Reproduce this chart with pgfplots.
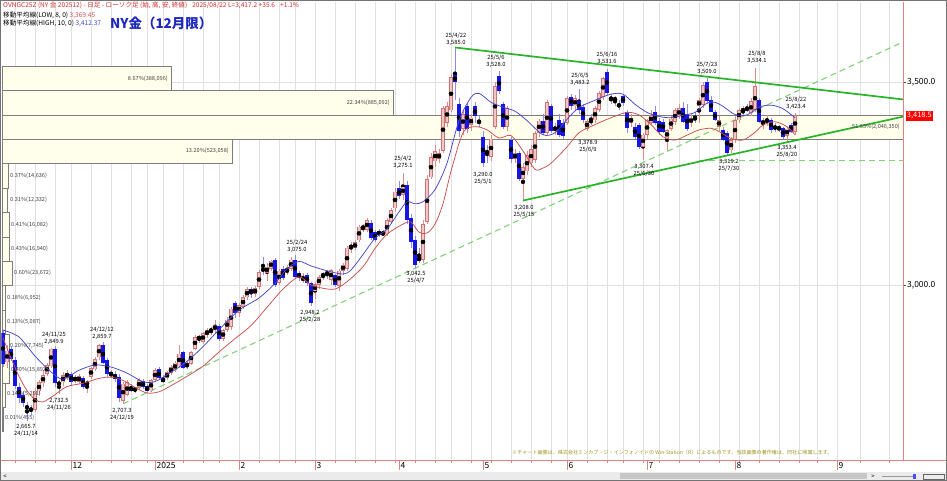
\documentclass[border=0pt]{standalone}
\usepackage{fontspec}
\setmainfont{Noto Sans CJK JP}
\usepackage{pgfplots}
\usepackage{pgfplotstable}
\pgfplotsset{compat=1.18}

\definecolor{upfill}{RGB}{238,200,200}
\definecolor{upline}{RGB}{205,115,115}
\definecolor{upwick}{RGB}{222,140,140}
\definecolor{dnfill}{RGB}{22,22,228}
\definecolor{dnwick}{RGB}{140,140,232}
\definecolor{mablue}{RGB}{70,70,200}
\definecolor{mared}{RGB}{200,80,80}
\definecolor{axred}{RGB}{225,130,130}
\definecolor{trgreen}{RGB}{40,180,40}
\definecolor{dgreen}{RGB}{130,210,120}
\definecolor{bandfill}{RGB}{255,255,236}
\definecolor{bandline}{RGB}{125,125,125}
\definecolor{gridc}{RGB}{224,224,224}
\definecolor{hdrred}{RGB}{205,45,45}
\definecolor{titleblue}{RGB}{30,40,190}
\definecolor{olivec}{RGB}{160,150,30}

% up candles: i O H L C
\pgfplotstableread{
i O H L C
1 2810 2852 2795 2838
8 2692 2746 2686 2740
9 2738 2766 2730 2760
10 2758 2788 2750 2778
11 2782 2808 2776 2803
12 2800 2846 2795 2843
14 2752 2766 2732.5 2762
15 2760 2785 2752 2778
16 2772 2790 2765 2784
18 2765 2778 2758 2772
19 2762 2780 2755 2775
21 2754 2766 2733 2760
22 2774 2798 2768 2795
23 2792 2822 2788 2818
24 2822 2855 2815 2852
27 2776 2790 2770 2786
30 2715 2762 2707.3 2757
31 2730 2766 2726 2760
33 2740 2750 2735 2746
34 2746 2770 2742 2766
37 2741 2768 2736 2765
38 2766 2795 2762 2791
41 2770 2788 2765 2785
42 2783 2802 2778 2798
43 2790 2812 2786 2809
44 2800 2852 2795 2831
46 2799 2812 2794 2806
47 2806 2838 2802 2834
48 2843 2876 2840 2872
49 2866 2877 2858 2873
50 2860 2885 2855 2881
51 2877 2894 2870 2888
52 2885 2897 2876 2891
53 2889 2914 2880 2902
55 2868 2892 2862 2888
56 2890 2920 2884 2915
57 2897 2945 2890 2942
59 2931 2955 2920 2951
60 2946 2975 2940 2970
61 2970 2995 2962 2990
63 2978 2998 2970 2992
64 2995 3038 2990 3032
66 3030 3055 3010 3045
67 3040 3062 3035 3060
69 3005 3040 3000 3035
71 3030 3050 3025 3042
72 3040 3068 3035 3062
75 3010 3030 3005 3022
78 2984 3008 2965 3002
79 3000 3025 2990 3020
80 3020 3032 3012 3028
82 3012 3040 3000 3037
84 2998 3040 2985 3035
85 3035 3055 3025 3050
86 3040 3096 3035 3092
87 3090 3105 3080 3098
88 3090 3110 3085 3105
89 3110 3148 3105 3144
90 3140 3150 3130 3143
91 3136 3165 3130 3160
96 3125 3165 3120 3160
97 3155 3190 3150 3185
98 3189 3240 3180 3230
100 3222 3275.1 3210 3242
105 3062 3160 3055 3150
106 3155 3270 3150 3260
107 3265 3325 3260 3315
108 3305 3345 3290 3330
109 3310 3335 3300 3325
110 3330 3440 3325 3435
111 3400 3450 3390 3440
112 3430 3520 3425 3512
115 3385 3430 3370 3420
117 3395 3420 3380 3412
122 3315 3370 3305 3360
123 3390 3500 3385 3490
126 3390 3440 3380 3435
128 3310 3335 3300 3325
130 3262 3300 3208 3290
131 3280 3330 3270 3320
132 3300 3345 3290 3335
133 3308 3380 3300 3374
134 3374 3410 3365 3405
136 3374 3455 3370 3450
138 3380 3400 3370 3390
141 3400 3465 3395 3460
143 3440 3468 3430 3460
146 3385 3410 3378.9 3404
148 3406 3440 3400 3435
149 3431 3478 3425 3472
150 3464 3512 3455 3509
152 3455 3470 3445 3463
153 3455 3465 3440 3460
157 3400 3420 3390 3412
160 3340 3375 3307.4 3370
161 3370 3410 3360 3406
162 3400 3430 3395 3418
166 3360 3385 3330 3382
167 3385 3415 3380 3410
168 3402 3435 3395 3430
169 3415 3445 3408 3435
172 3398 3420 3390 3412
174 3440 3460 3400 3455
175 3443 3500 3435 3492
179 3390 3415 3380 3406
182 3332 3365 3325 3357
183 3357 3415 3350 3406
184 3406 3435 3400 3431
185 3425 3440 3415 3435
187 3423 3460 3415 3452
188 3431 3534.1 3425 3489
190 3394 3412 3385 3406
191 3400 3418 3392 3410
196 3368 3390 3353.4 3385
198 3377 3423.4 3370 3418.5
}\upc

% down candles: i O H L C
\pgfplotstableread{
i O H L C
0 2882 2890 2798 2805
2 2842 2848 2812 2818
3 2816 2822 2745 2752
4 2750 2758 2710 2722
5 2728 2740 2700 2710
6 2702 2712 2665.7 2696
7 2697 2705 2680 2690
13 2842 2849.9 2750 2758
17 2782 2786 2752 2760
20 2770 2776 2745 2750
25 2852 2859.7 2805 2808
26 2815 2820 2774 2780
28 2782 2788 2762 2768
29 2774 2782 2712 2722
32 2750 2756 2736 2738
35 2764 2768 2744 2748
36 2752 2756 2734 2738
39 2792 2798 2768 2770
40 2770 2778 2758 2762
45 2834 2838 2793 2795
54 2898 2903 2862 2866
58 2955 2960 2918 2931
62 2990 2996 2968 2978
65 3040 3069 3025 3035
68 3062 3066 2996 3000
70 3040 3048 3012 3018
73 3062 3075 3015 3020
74 3030 3035 3010 3018
76 3025 3030 2998 3004
77 3004 3008 2948.2 2955
81 3033 3038 3015 3025
83 3025 3028 2995 3000
92 3152 3160 3110 3115
93 3131 3135 3105 3111
94 3130 3138 3118 3126
95 3128 3135 3120 3125
99 3238 3255 3212 3218
101 3246 3255 3150 3160
102 3165 3175 3090 3105
103 3110 3120 3042.5 3050
104 3068 3090 3055 3060
113 3517 3585 3456 3500
114 3445 3460 3365 3380
116 3440 3448 3375 3385
118 3440 3450 3400 3415
119 3405 3415 3390 3398
120 3365 3380 3290 3300
121 3330 3345 3300 3325
124 3515 3528 3470 3478
125 3445 3450 3385 3390
127 3357 3365 3300 3310
129 3325 3330 3255 3262
135 3405 3420 3370 3375
137 3440 3446 3375 3380
139 3406 3420 3365 3370
140 3398 3410 3360 3366
142 3464 3470 3430 3440
144 3452 3483.2 3420 3431
145 3439 3445 3400 3406
147 3405 3420 3395 3402
151 3525 3531.6 3468 3472
154 3445 3455 3430 3440
155 3465 3470 3440 3448
156 3427 3432 3375 3386
158 3390 3400 3360 3365
159 3394 3400 3335 3341
163 3427 3440 3395 3398
164 3405 3412 3370 3378
165 3402 3410 3375 3378
170 3435 3450 3400 3402
171 3422 3445 3380 3385
173 3412 3425 3400 3408
176 3501 3509 3445 3452
177 3456 3465 3425 3427
178 3427 3432 3405 3406
180 3382 3390 3355 3357
181 3374 3380 3319.2 3324
186 3435 3445 3425 3432
189 3456 3460 3398 3402
192 3406 3412 3375 3382
193 3390 3398 3378 3385
194 3388 3395 3378 3383
195 3386 3390 3360 3365
197 3394 3398 3375 3378
}\dnc

\newcommand{\lbl}[4]{\node[font=\fontsize{5.8}{6.9}\selectfont, align=center, inner sep=0pt, text=black] at ({#1*1bp},{(481-#2)*1bp}) {#3\\#4};}
\newcommand{\bandlbl}[4]{\node[font=\fontsize{5.6}{6}\selectfont, inner sep=0pt, text=black!75, anchor=#1] at ({#2*1bp},{(481-#3)*1bp}) {#4};}

\begin{document}
\begin{tikzpicture}
\useasboundingbox (0,0) rectangle (947bp,481bp);
\fill[white] (0,0) rectangle (947bp,481bp);
\begin{axis}[
  at={(1.4bp,21bp)}, anchor=south west, scale only axis,
  width=901.6bp, height=458bp,
  xmin=-0.4, xmax=225, ymin=2569, ymax=3697,
  axis line style={draw=none},
  clip mode=individual,
  tick align=outside,
  xtick={17,38,59,78,99,120,141,161,183,208.5},
  xticklabels={12,2025,2,3,4,5,6,7,8,9},
  xtick pos=left, xticklabel pos=left,
  minor xtick={3,8,13,17,22,27,32,36,40,45,50,54,59,64,69,73,78,83,88,93,98,103,108,112,117,122,127,132,137,141,146,151,155,160,164,169,174,179,184,189,194,199,203.5,208.5,214.3,221.5},
  xminorgrids=true,
  minor grid style={draw=gridc, line width=0.6bp},
  major tick length=10bp, minor tick length=3bp,
  tick style={draw=axred, line width=0.7bp},
  xticklabel style={anchor=north west, inner sep=0pt, xshift=1.5bp, yshift=8bp, font=\fontsize{8.5}{9}\selectfont},
  ytick={3000,3500}, yticklabels={{3,000.0},{3,500.0}},
  ytick pos=right, yticklabel pos=right,
  ytick style={draw=black!70, /pgfplots/major tick length=3bp},
  yticklabel style={anchor=west, inner sep=0pt, xshift=-6bp, font=\fontsize{8.5}{9}\selectfont},
]
% horizontal grid
\addplot[gridc, line width=0.6bp, forget plot] coordinates {(-1,3000) (226,3000)};
\addplot[gridc, line width=0.6bp, forget plot] coordinates {(-1,3500) (226,3500)};

% price-volume bands
\addplot[draw=bandline, fill=bandfill, line width=0.7bp] coordinates {(-0.2,3478.5) (42,3478.5) (42,3538.5) (-0.2,3538.5)} -- cycle;
\addplot[draw=bandline, fill=bandfill, line width=0.7bp] coordinates {(-0.2,3418.5) (97.5,3418.5) (97.5,3478.5) (-0.2,3478.5)} -- cycle;
\addplot[draw=bandline, fill=bandfill, line width=0.7bp] coordinates {(-0.2,3358.5) (227,3358.5) (227,3418.5) (-0.2,3418.5)} -- cycle;
\addplot[draw=bandline, fill=bandfill, line width=0.7bp] coordinates {(-0.2,3298.5) (57.25,3298.5) (57.25,3358.5) (-0.2,3358.5)} -- cycle;
\addplot[draw=bandline, fill=bandfill, line width=0.7bp] coordinates {(-0.2,3238.5) (1.25,3238.5) (1.25,3298.5) (-0.2,3298.5)} -- cycle;
\addplot[draw=bandline, fill=bandfill, line width=0.7bp] coordinates {(-0.2,3178.5) (1,3178.5) (1,3238.5) (-0.2,3238.5)} -- cycle;
\addplot[draw=bandline, fill=bandfill, line width=0.7bp] coordinates {(-0.2,3118.5) (1.5,3118.5) (1.5,3178.5) (-0.2,3178.5)} -- cycle;
\addplot[draw=bandline, fill=bandfill, line width=0.7bp] coordinates {(-0.2,3058.5) (1.5,3058.5) (1.5,3118.5) (-0.2,3118.5)} -- cycle;
\addplot[draw=bandline, fill=bandfill, line width=0.7bp] coordinates {(-0.2,2998.5) (2.25,2998.5) (2.25,3058.5) (-0.2,3058.5)} -- cycle;
\addplot[draw=bandline, fill=bandfill, line width=0.7bp] coordinates {(-0.2,2938.5) (0.5,2938.5) (0.5,2998.5) (-0.2,2998.5)} -- cycle;
\addplot[draw=bandline, fill=bandfill, line width=0.7bp] coordinates {(-0.2,2878.5) (0.5,2878.5) (0.5,2938.5) (-0.2,2938.5)} -- cycle;
\addplot[draw=bandline, fill=bandfill, line width=0.7bp] coordinates {(-0.2,2818.5) (1.5,2818.5) (1.5,2878.5) (-0.2,2878.5)} -- cycle;
\addplot[draw=bandline, fill=bandfill, line width=0.7bp] coordinates {(-0.2,2758.5) (1.5,2758.5) (1.5,2818.5) (-0.2,2818.5)} -- cycle;
\addplot[draw=bandline, fill=bandfill, line width=0.7bp] coordinates {(-0.2,2698.5) (0.5,2698.5) (0.5,2758.5) (-0.2,2758.5)} -- cycle;
\addplot[draw=bandline, fill=bandfill, line width=0.7bp] coordinates {(-0.2,2638.5) (0.1,2638.5) (0.1,2698.5) (-0.2,2698.5)} -- cycle;

% trend lines (dashed)
\addplot[dgreen, line width=1.1bp, dash pattern=on 6bp off 4bp] coordinates {(30,2707.3) (225,3598.6)};
\addplot[dgreen, line width=1.1bp, dash pattern=on 6bp off 4bp] coordinates {(174,3307.4) (225,3307.4)};

% wicks
\addplot[only marks, mark=none, forget plot, error bars/.cd, y dir=both, y explicit, error mark=none, error bar style={draw=upwick, line width=0.8bp}]
  table[x=i, y expr={(\thisrow{H}+\thisrow{L})/2}, y error expr={(\thisrow{H}-\thisrow{L})/2}] {\upc};
\addplot[only marks, mark=none, forget plot, error bars/.cd, y dir=both, y explicit, error mark=none, error bar style={draw=dnwick, line width=0.8bp}]
  table[x=i, y expr={(\thisrow{H}+\thisrow{L})/2}, y error expr={(\thisrow{H}-\thisrow{L})/2}] {\dnc};
% bodies
\addplot[only marks, mark=none, forget plot, error bars/.cd, y dir=both, y explicit, error mark=none, error bar style={draw=upline, line width=3.1bp}]
  table[x=i, y expr={(\thisrow{O}+\thisrow{C})/2}, y error expr={max(abs(\thisrow{C}-\thisrow{O})/2,0.8)}] {\upc};
\addplot[only marks, mark=none, forget plot, error bars/.cd, y dir=both, y explicit, error mark=none, error bar style={draw=upfill, line width=1.7bp}]
  table[x=i, y expr={(\thisrow{O}+\thisrow{C})/2}, y error expr={max(abs(\thisrow{C}-\thisrow{O})/2-1.6,0.05)}] {\upc};
\addplot[only marks, mark=none, forget plot, error bars/.cd, y dir=both, y explicit, error mark=none, error bar style={draw=dnfill, line width=3.1bp}]
  table[x=i, y expr={(\thisrow{O}+\thisrow{C})/2}, y error expr={max(abs(\thisrow{C}-\thisrow{O})/2,0.8)}] {\dnc};

% moving averages
\addplot[mablue, line width=0.75bp, smooth] coordinates {
(0,2889) (4,2872) (8,2825) (12,2786) (15,2768) (19,2790) (23,2803) (27,2798) (31,2783) (35,2762) (38,2762) (42,2785) (46,2812) (50,2848) (54,2890) (59,2938) (64,2968) (68,3004) (71,3040) (74,3058) (77,3047) (81,3035) (85,3027) (87,3037) (90,3075) (93,3115) (96,3138) (99,3180) (101,3205) (103,3200) (105,3205) (108,3235) (111,3300) (114,3405) (117,3462) (119,3472) (122,3450) (125,3438) (128,3428) (131,3405) (135,3370) (138,3375) (141,3408) (144,3437) (148,3455) (152,3470) (155,3470) (158,3445) (161,3425) (164,3415) (167,3412) (170,3418) (173,3425) (176,3448) (178,3450) (180,3440) (183,3420) (186,3419) (189,3438) (192,3443) (195,3434) (198,3412)};
\addplot[mared, line width=0.75bp, smooth] coordinates {
(0,2870) (2,2820) (4,2775) (6,2740) (8,2718) (10,2712) (13,2730) (16,2750) (20,2758) (24,2770) (27,2773) (30,2765) (33,2748) (36,2734) (39,2737) (42,2752) (46,2775) (50,2800) (54,2835) (58,2868) (62,2900) (66,2945) (70,2990) (74,3020) (77,3000) (80,2992) (83,2990) (86,3008) (90,3045) (93,3090) (96,3125) (100,3150) (102,3155) (104,3130) (106,3128) (108,3150) (110,3200) (112,3280) (115,3375) (118,3390) (121,3382) (124,3362) (127,3368) (130,3330) (133,3285) (135,3288) (137,3300) (141,3340) (144,3375) (148,3395) (152,3412) (156,3425) (159,3419) (162,3395) (165,3365) (168,3357) (171,3369) (174,3382) (177,3386) (179,3378) (182,3361) (185,3357) (188,3376) (190,3394) (193,3402) (196,3390) (198,3370)};

% solid trend lines
\addplot[trgreen, line width=1.7bp] coordinates {(113,3585) (225,3457)};
\addplot[trgreen, line width=1.7bp] coordinates {(130,3208) (225,3414.6)};

% axis lines
\draw[axred, line width=0.9bp] (rel axis cs:1,0) -- (rel axis cs:1,1);
\draw[axred, line width=0.9bp] (rel axis cs:-0.01,0) -- (rel axis cs:1.05,0);
\end{axis}

% header
\node[anchor=base west, inner sep=0pt, font=\fontsize{6.6}{7}\selectfont, text=hdrred] at (3bp,473bp) {OVNGC25Z (NY 金 202512) - 日足 - ローソク足 (始, 高, 安, 終値)\hspace{5bp}2025/08/22 L=3,417.2 +35.6\hspace{5bp}+1.1\%};
\node[anchor=base west, inner sep=0pt, font=\fontsize{6.6}{7}\selectfont] at (3bp,463.5bp) {移動平均線(LOW, 8, 0) \textcolor{mared}{3,369.45}};
\node[anchor=base west, inner sep=0pt, font=\fontsize{6.6}{7}\selectfont] at (3bp,455bp) {移動平均線(HIGH, 10, 0) \textcolor{mablue}{3,412.37}};
\node[anchor=base west, inner sep=0pt, font=\fontsize{13.5}{14}\selectfont\bfseries, text=titleblue] at (110bp,452bp) {NY金（12月限）};

% band labels
\bandlbl{east}{168}{79}{8.67\%(388,096)}
\bandlbl{east}{390}{103}{22.34\%(885,092)}
\bandlbl{east}{900}{127}{51.65\%(2,046,350)}
\bandlbl{east}{229}{151}{13.20\%(523,058)}
\bandlbl{west}{10}{176}{0.37\%(14,636)}
\bandlbl{west}{10}{200}{0.31\%(12,332)}
\bandlbl{west}{11}{225}{0.41\%(16,082)}
\bandlbl{west}{11}{249}{0.43\%(16,940)}
\bandlbl{west}{14}{273}{0.60\%(23,672)}
\bandlbl{west}{7}{298}{0.18\%(6,952)}
\bandlbl{west}{7}{322}{0.13\%(5,087)}
\bandlbl{west}{10}{346}{0.20\%(7,745)}
\bandlbl{west}{11}{370}{0.40\%(15,892)}
\bandlbl{west}{7}{394}{0.14\%(5,291)}
\bandlbl{west}{5}{418}{0.01\%(455)}

% high/low labels
\lbl{26}{430}{2,665.7}{24/11/14}
\lbl{54}{338.5}{24/11/25}{2,849.9}
\lbl{59}{404.5}{2,732.5}{24/11/26}
\lbl{102}{333.5}{24/12/12}{2,859.7}
\lbl{122}{414.5}{2,707.3}{24/12/19}
\lbl{297}{246.5}{25/2/24}{3,075.0}
\lbl{310}{316}{2,948.2}{25/2/28}
\lbl{403}{162}{25/4/2}{3,275.1}
\lbl{416}{277}{3,042.5}{25/4/7}
\lbl{456}{39.5}{25/4/22}{3,585.0}
\lbl{496}{61}{25/5/6}{3,528.0}
\lbl{483}{178.5}{3,290.0}{25/5/1}
\lbl{524}{211}{3,208.0}{25/5/15}
\lbl{580}{79}{25/6/5}{3,483.2}
\lbl{588}{146}{3,378.9}{25/6/9}
\lbl{607}{58}{25/6/16}{3,531.6}
\lbl{644}{170.5}{3,307.4}{25/6/30}
\lbl{707}{68.5}{25/7/23}{3,509.0}
\lbl{729}{165.5}{3,319.2}{25/7/30}
\lbl{757}{57.5}{25/8/8}{3,534.1}
\lbl{796}{103}{25/8/22}{3,423.4}
\lbl{787}{151}{3,353.4}{25/8/20}

% price tag
\node[fill=red, text=white, inner sep=1.2bp, anchor=west, font=\fontsize{7.5}{8}\selectfont] at (905.5bp,365bp) {3,418.5};

% footer
\node[anchor=base west, inner sep=0pt, font=\fontsize{5.1}{6}\selectfont, text=olivec] at (512bp,27bp) {※チャート画像は、株式会社ミンカブ・ジ・インフォノイドの Win-Station（R）によるものです。当該画像の著作権は、同社に帰属します。};

% scrollbar
\fill[black!8] (1bp,1bp) rectangle (946bp,8.5bp);
\fill[black!22] (620bp,2bp) rectangle (867bp,7.5bp);
\node[font=\fontsize{6}{6}\selectfont, inner sep=0pt] at (5bp,4.5bp) {<};
\node[font=\fontsize{6}{6}\selectfont, inner sep=0pt] at (873bp,4.5bp) {>};
\draw[black!40, line width=0.5bp] (882bp,4.5bp) -- (915bp,4.5bp);
\fill[blue!70] (913bp,2bp) rectangle (916bp,7bp);
\draw[black!60, line width=0.5bp] (923bp,2bp) rectangle (944bp,7bp);
% frame
\draw[black!55, line width=0.8bp] (0.4bp,0.4bp) rectangle (946.6bp,480.6bp);
\end{tikzpicture}
\end{document}
